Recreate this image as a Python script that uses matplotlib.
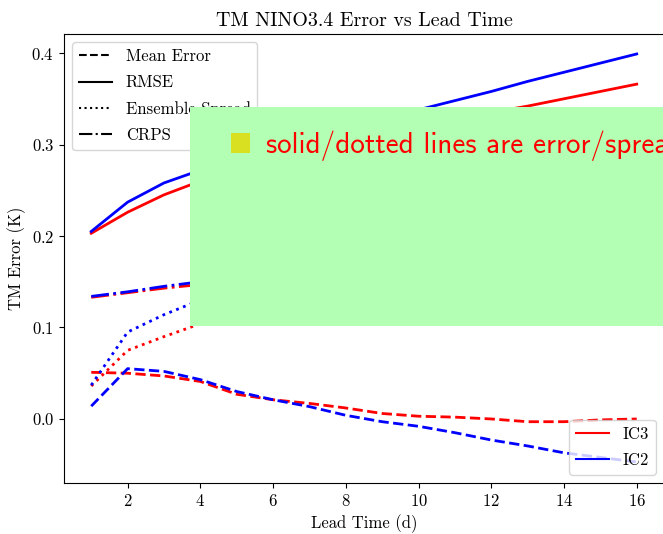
import matplotlib
matplotlib.use("Agg")
import matplotlib.pyplot as plt
from matplotlib.lines import Line2D
from matplotlib.patches import Rectangle
import numpy as np

plt.rcParams['font.family'] = 'serif'
plt.rcParams['font.serif'] = ['cmr10']
plt.rcParams['mathtext.fontset'] = 'cm'
plt.rcParams['axes.formatter.use_mathtext'] = True
plt.rcParams['font.size'] = 12

# lead times (days)
lead = np.arange(1, 17)

# IC3 (red)
rmse_ic3 = [0.203, 0.226, 0.245, 0.260, 0.272, 0.283, 0.293, 0.303,
            0.312, 0.320, 0.328, 0.335, 0.342, 0.350, 0.358, 0.366]
crps_ic3 = [0.133, 0.138, 0.143, 0.147, 0.151, 0.156, 0.160, 0.165,
            0.169, 0.173, 0.178, 0.182, 0.186, 0.190, 0.194, 0.198]
spread_ic3 = [0.036, 0.075, 0.090, 0.104, 0.114, 0.123, 0.131, 0.139,
              0.146, 0.153, 0.160, 0.166, 0.172, 0.178, 0.184, 0.190]
bias_ic3 = [0.051, 0.050, 0.047, 0.041, 0.027, 0.021, 0.017, 0.012,
            0.006, 0.003, 0.002, 0.000, -0.003, -0.003, -0.001, 0.000]

# IC2 (blue)
rmse_ic2 = [0.205, 0.237, 0.258, 0.272, 0.284, 0.296, 0.307, 0.318,
            0.328, 0.338, 0.348, 0.358, 0.369, 0.379, 0.389, 0.399]
crps_ic2 = [0.134, 0.139, 0.145, 0.150, 0.155, 0.160, 0.165, 0.170,
            0.175, 0.180, 0.185, 0.190, 0.195, 0.200, 0.205, 0.210]
spread_ic2 = [0.037, 0.095, 0.114, 0.130, 0.142, 0.152, 0.161, 0.170,
              0.178, 0.186, 0.193, 0.200, 0.207, 0.214, 0.220, 0.226]
bias_ic2 = [0.014, 0.055, 0.052, 0.043, 0.030, 0.021, 0.0135, 0.004,
            -0.003, -0.008, -0.015, -0.023, -0.0295, -0.037, -0.042, -0.047]

fig = plt.figure(figsize=(6.63, 5.34), dpi=100)
ax = fig.add_axes([0.0965, 0.0955, 0.905, 0.8408])

lw = 2
for col, rm, cr, sp, bi in [('red', rmse_ic3, crps_ic3, spread_ic3, bias_ic3),
                            ('blue', rmse_ic2, crps_ic2, spread_ic2, bias_ic2)]:
    ax.plot(lead, rm, color=col, ls='-', lw=lw)
    ax.plot(lead, cr, color=col, ls='-.', lw=lw)
    ax.plot(lead, sp, color=col, ls=':', lw=lw)
    ax.plot(lead, bi, color=col, ls='--', lw=lw)

ax.set_xlim(0.25, 16.75)
ax.set_ylim(-0.070, 0.4208)
ax.set_xticks([2, 4, 6, 8, 10, 12, 14, 16])
ax.set_yticks([0.0, 0.1, 0.2, 0.3, 0.4])
ax.set_xlabel('Lead Time (d)')
ax.set_ylabel('TM Error (K)')
ax.set_title('TM NINO3.4 Error vs Lead Time', fontsize=14.4)

style_handles = [Line2D([], [], color='k', ls='--', lw=1.5),
                 Line2D([], [], color='k', ls='-', lw=1.5),
                 Line2D([], [], color='k', ls=':', lw=1.5),
                 Line2D([], [], color='k', ls='-.', lw=1.5)]
leg1 = ax.legend(style_handles, ['Mean Error', 'RMSE', 'Ensemble Spread', 'CRPS'],
                 loc='upper left', labelspacing=0.65)
ax.add_artist(leg1)
ic_handles = [Line2D([], [], color='red', lw=1.5),
              Line2D([], [], color='blue', lw=1.5)]
ax.legend(ic_handles, ['IC3', 'IC2'], loc='lower right', labelspacing=0.65)

# overlay note box
W, H = 663.0, 534.0
fig.add_artist(Rectangle((190 / W, 1 - 326 / H), 480 / W, 219 / H,
                         transform=fig.transFigure, facecolor='#b3ffb3',
                         edgecolor='none', zorder=10))
fig.add_artist(Rectangle((231 / W, 1 - 153 / H), 19 / W, 20 / H,
                         transform=fig.transFigure, facecolor='#d9e021',
                         edgecolor='none', zorder=11))
fig.text(266 / W, 1 - 153 / H, 'solid/dotted lines are error/spread',
         color='red', fontsize=21, family='cmss10', va='baseline', zorder=12)

fig.savefig('out.png', dpi=100)
